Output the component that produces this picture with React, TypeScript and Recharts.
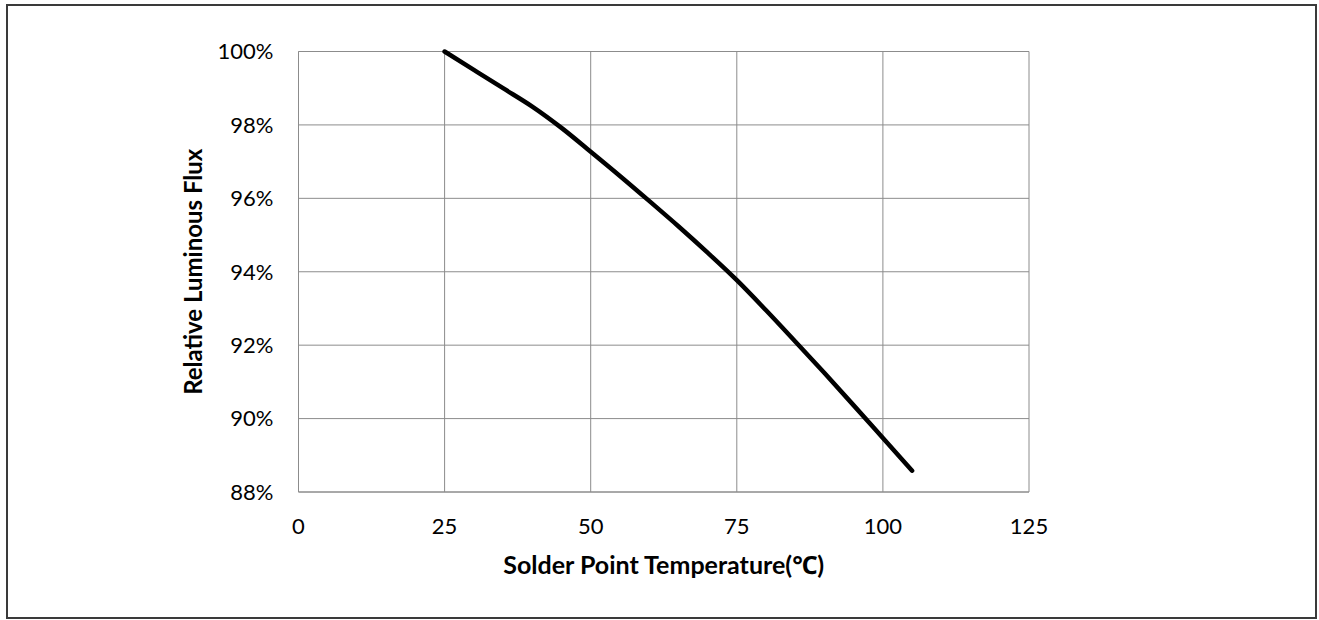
import React from "react"
import { LineChart, Line, XAxis, YAxis, CartesianGrid } from "recharts"

// solder point temperature (°C)
const temps = [25, 30, 35, 40, 45, 50, 55, 60, 65, 70, 75, 80, 85, 90, 95, 100, 105]
// relative luminous flux (%)
const flux = [100, 99.5, 99.0, 98.5, 97.92, 97.27, 96.61, 95.93, 95.24, 94.52, 93.77, 92.95, 92.1, 91.24, 90.36, 89.47, 88.58]

const xTicks = [0, 25, 50, 75, 100, 125]
const yTicks = [88, 90, 92, 94, 96, 98, 100]

const data = temps.map((t, i) => ({ t, flux: flux[i] }))

const FONT = "Lato, 'Noto Sans', sans-serif"
const GRID = "#8c8c8c"

export default function App() {
  return (
    <div style={{ position: "absolute", left: 0, top: 0, width: 1319, height: 620, background: "#fff", fontFamily: FONT }}>
      <div
        style={{
          position: "absolute",
          left: 6,
          top: 4,
          width: 1311,
          height: 615,
          boxSizing: "border-box",
          border: "2px solid #3a3a3a",
        }}
      />
      <div style={{ position: "absolute", left: 0, top: 0 }}>
        <LineChart width={1319} height={620} data={data} margin={{ top: 51.5, right: 290, bottom: 88, left: 87.5 }}>
          <CartesianGrid stroke={GRID} strokeWidth={1} horizontalValues={yTicks} verticalValues={xTicks} />
          <XAxis
            dataKey="t"
            type="number"
            domain={[0, 125]}
            ticks={xTicks}
            height={40}
            tickSize={0}
            tickLine={false}
            tickMargin={26}
            axisLine={{ stroke: GRID }}
            tick={{ fill: "#000", fontSize: 22, fontFamily: FONT }}
            label={{
              value: "Solder Point Temperature(℃)",
              position: "bottom",
              offset: 24,
              style: { fill: "#000", fontSize: 25, fontWeight: 700, fontFamily: FONT },
            }}
          />
          <YAxis
            type="number"
            domain={[88, 100]}
            ticks={yTicks}
            width={211}
            tickSize={0}
            tickLine={false}
            tickMargin={25}
            axisLine={{ stroke: GRID }}
            tickFormatter={(v) => `${v}%`}
            tick={{ fill: "#000", fontSize: 22, fontFamily: FONT }}
            label={{
              value: "Relative Luminous Flux",
              position: "center",
              angle: -90,
              style: { fill: "#000", fontSize: 24, fontWeight: 700, fontFamily: FONT },
            }}
          />
          <Line
            type="monotone"
            dataKey="flux"
            stroke="#000"
            strokeWidth={4.5}
            strokeLinecap="round"
            dot={false}
            isAnimationActive={false}
          />
        </LineChart>
      </div>
    </div>
  )
}
